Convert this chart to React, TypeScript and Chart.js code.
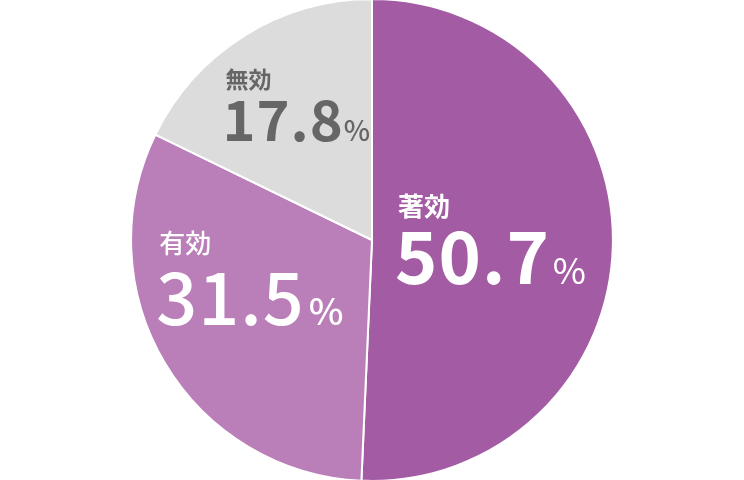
import { useEffect, useRef } from 'react';
import { Chart, registerables } from 'chart.js';

Chart.register(...registerables);

const CATEGORIES = ['著効', '有効', '無効'];
const VALUES = [50.7, 31.5, 17.8];
const COLORS = ['#A35BA3', '#BA7FB8', '#DCDCDC'];
const TEXT_COLORS = ['#FFFFFF', '#FFFFFF', '#666666'];

// label placement relative to pie center, in units of radius
const LABEL_POS = [
  { dx: 0.108, dy: -0.1, numDy: 0.183, label: 26, num: 72, pct: 36, gap: 3, labelW: 'bold', numW: 'bold', pctW: 'normal' },
  { dx: -0.883, dy: 0.054, numDy: 0.354, label: 26, num: 72, pct: 37, gap: 4, labelW: '500', numW: '500', pctW: '500' },
  { dx: -0.608, dy: -0.629, numDy: -0.412, label: 23, num: 56, pct: 28, gap: 0, labelW: 'bold', numW: 'bold', pctW: '500' },
];

const FONT = '"Noto Sans CJK JP", "Noto Sans", sans-serif';

const labelPlugin = {
  id: 'sliceLabels',
  afterDatasetsDraw(chart: Chart) {
    const { ctx } = chart;
    const meta = chart.getDatasetMeta(0);
    meta.data.forEach((arc: any, i: number) => {
      const cx = arc.x;
      const cy = arc.y;
      const r = arc.outerRadius;
      const p = LABEL_POS[i];
      const x = cx + p.dx * r;
      ctx.save();
      ctx.fillStyle = TEXT_COLORS[i];
      ctx.textAlign = 'left';
      ctx.textBaseline = 'alphabetic';
      ctx.font = `${p.labelW} ${p.label}px ${FONT}`;
      ctx.fillText(CATEGORIES[i], x, cy + p.dy * r);
      const numText = VALUES[i].toFixed(1);
      ctx.font = `${p.numW} ${p.num}px ${FONT}`;
      (ctx as any).letterSpacing = '1px';
      const nx = x - 3;
      const ny = cy + p.numDy * r;
      ctx.fillText(numText, nx, ny);
      const w = ctx.measureText(numText).width;
      (ctx as any).letterSpacing = '0px';
      ctx.font = `${p.pctW} ${p.pct}px ${FONT}`;
      ctx.fillText('%', nx + w + p.gap, ny);
      ctx.restore();
    });
  },
};

export default function App() {
  const canvasRef = useRef<HTMLCanvasElement>(null);
  const chartRef = useRef<Chart | null>(null);

  useEffect(() => {
    if (!canvasRef.current) return;
    if (chartRef.current) chartRef.current.destroy();

    chartRef.current = new Chart(canvasRef.current, {
      type: 'pie',
      data: {
        labels: CATEGORIES,
        datasets: [{
          data: VALUES,
          backgroundColor: COLORS,
          borderColor: '#FFFFFF',
          borderWidth: 2,
        }],
      },
      options: {
        responsive: true,
        maintainAspectRatio: false,
        animation: false,
        radius: '100.8%',
        layout: { padding: 0 },
        plugins: {
          legend: { display: false },
          tooltip: { enabled: false },
        },
      },
      plugins: [labelPlugin],
    });

    return () => { chartRef.current?.destroy(); };
  }, []);

  return (
    <div style={{ position: 'fixed', left: 0, top: 0, width: '744px', height: '480px', background: '#fff' }}>
      <canvas ref={canvasRef} />
    </div>
  );
}
